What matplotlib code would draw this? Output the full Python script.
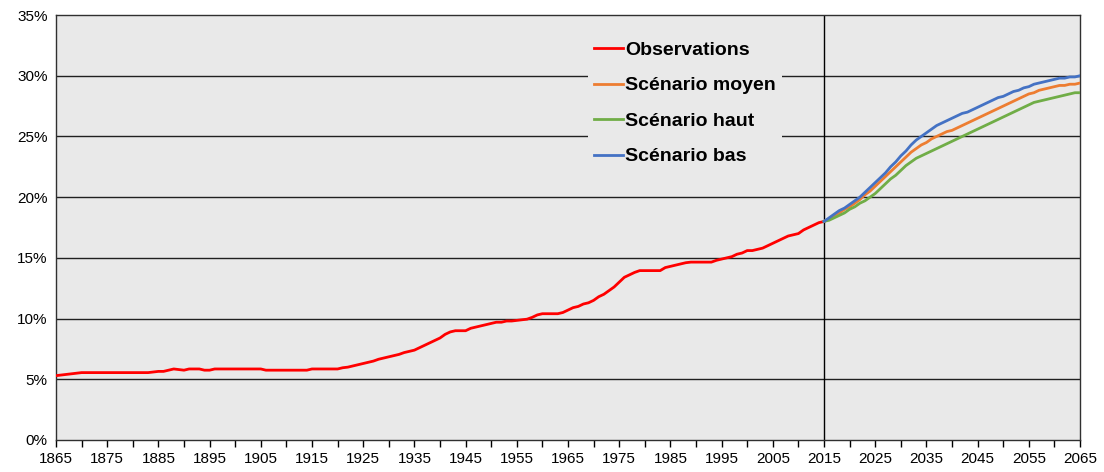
import matplotlib.pyplot as plt
from matplotlib.ticker import FuncFormatter

plt.rcParams['font.family'] = ['Liberation Sans', 'DejaVu Sans']

# observations, 1865-2015 (one value per year, in %)
obs_years = list(range(1865, 2016))
obs = [5.3, 5.35, 5.4, 5.45, 5.5,                                   # 1865-1869
       5.55, 5.55, 5.55, 5.55, 5.55, 5.55, 5.55, 5.55, 5.55, 5.55,  # 1870-1879
       5.55, 5.55, 5.55, 5.55, 5.6, 5.65, 5.65, 5.75, 5.85, 5.8,    # 1880-1889
       5.75, 5.85, 5.85, 5.85, 5.75, 5.75, 5.85, 5.85, 5.85, 5.85,  # 1890-1899
       5.85, 5.85, 5.85, 5.85, 5.85, 5.85, 5.75, 5.75, 5.75, 5.75,  # 1900-1909
       5.75, 5.75, 5.75, 5.75, 5.75, 5.85, 5.85, 5.85, 5.85, 5.85,  # 1910-1919
       5.85, 5.95, 6.0, 6.1, 6.2, 6.3, 6.4, 6.5, 6.65, 6.75,        # 1920-1929
       6.85, 6.95, 7.05, 7.2, 7.3, 7.4, 7.6, 7.8, 8.0, 8.2,         # 1930-1939
       8.4, 8.7, 8.9, 9.0, 9.0, 9.0, 9.2, 9.3, 9.4, 9.5,            # 1940-1949
       9.6, 9.7, 9.7, 9.8, 9.8, 9.85, 9.9, 9.95, 10.1, 10.3,        # 1950-1959
       10.4, 10.4, 10.4, 10.4, 10.5, 10.7, 10.9, 11.0, 11.2, 11.3,  # 1960-1969
       11.5, 11.8, 12.0, 12.3, 12.6, 13.0, 13.4, 13.6, 13.8, 13.95, # 1970-1979
       13.95, 13.95, 13.95, 13.95, 14.2, 14.3, 14.4, 14.5, 14.6, 14.65,  # 1980-1989
       14.65, 14.65, 14.65, 14.65, 14.8, 14.9, 15.0, 15.1, 15.3, 15.4,   # 1990-1999
       15.6, 15.6, 15.7, 15.8, 16.0, 16.2, 16.4, 16.6, 16.8, 16.9,       # 2000-2009
       17.0, 17.3, 17.5, 17.7, 17.9, 18.0]                               # 2010-2015

# projections, 2015-2065
proj_years = list(range(2015, 2066))
moyen = [18.0, 18.2, 18.5, 18.7, 19.0, 19.2, 19.5, 19.8, 20.2, 20.5,
         20.9, 21.3, 21.7, 22.1, 22.5, 22.9, 23.3, 23.7, 24.0, 24.3,
         24.5, 24.8, 25.0, 25.2, 25.4, 25.5, 25.7, 25.9, 26.1, 26.3,
         26.5, 26.7, 26.9, 27.1, 27.3, 27.5, 27.7, 27.9, 28.1, 28.3,
         28.5, 28.6, 28.8, 28.9, 29.0, 29.1, 29.2, 29.2, 29.3, 29.3, 29.4]
haut = [18.0, 18.1, 18.3, 18.5, 18.7, 19.0, 19.2, 19.5, 19.7, 20.0,
        20.3, 20.7, 21.1, 21.5, 21.8, 22.2, 22.6, 22.9, 23.2, 23.4,
        23.6, 23.8, 24.0, 24.2, 24.4, 24.6, 24.8, 25.0, 25.2, 25.4,
        25.6, 25.8, 26.0, 26.2, 26.4, 26.6, 26.8, 27.0, 27.2, 27.4,
        27.6, 27.8, 27.9, 28.0, 28.1, 28.2, 28.3, 28.4, 28.5, 28.6, 28.6]
bas = [18.0, 18.3, 18.6, 18.9, 19.1, 19.4, 19.7, 20.0, 20.4, 20.8,
       21.2, 21.6, 22.0, 22.5, 22.9, 23.4, 23.8, 24.3, 24.7, 25.0,
       25.3, 25.6, 25.9, 26.1, 26.3, 26.5, 26.7, 26.9, 27.0, 27.2,
       27.4, 27.6, 27.8, 28.0, 28.2, 28.3, 28.5, 28.7, 28.8, 29.0,
       29.1, 29.3, 29.4, 29.5, 29.6, 29.7, 29.8, 29.8, 29.9, 29.9, 30.0]

fig = plt.figure(figsize=(11.04, 4.72), dpi=100)
ax = fig.add_axes([0.0507, 0.0678, 0.9276, 0.9004])
ax.set_facecolor('#e9e9e9')

for y in range(5, 35, 5):
    ax.axhline(y, color='#202020', lw=1.0, zorder=1)
ax.axvline(2015, color='black', lw=1.0, zorder=1)

l_obs, = ax.plot(obs_years, obs, color='#ff0000', lw=2.0, zorder=3)
l_moy, = ax.plot(proj_years, moyen, color='#ed7d31', lw=2.0, zorder=3)
l_haut, = ax.plot(proj_years, haut, color='#70ad47', lw=2.0, zorder=3)
l_bas, = ax.plot(proj_years, bas, color='#4472c4', lw=2.0, zorder=4)

ax.set_xlim(1865, 2065)
ax.set_ylim(0, 35)
ax.set_xticks(range(1865, 2066, 10))
ax.set_xticks(range(1870, 2066, 10), minor=True)
ax.set_yticks(range(0, 36, 5))
ax.yaxis.set_major_formatter(FuncFormatter(lambda v, p: '%d%%' % v))
ax.tick_params(axis='x', which='both', direction='out', length=5, width=1,
               labelsize=11, pad=4)
ax.tick_params(axis='y', length=0, labelsize=11, pad=6)
for s in ax.spines.values():
    s.set_color('#303030')
    s.set_linewidth(1.0)

leg = ax.legend([l_obs, l_moy, l_haut, l_bas],
                ['Observations', 'Scénario moyen', 'Scénario haut', 'Scénario bas'],
                loc='upper left', bbox_to_anchor=(0.5195, 0.952),
                borderaxespad=0,
                prop={'weight': 'bold', 'size': 14},
                handlelength=1.5, handletextpad=0.12, labelspacing=0.92,
                borderpad=0.3, frameon=True, fancybox=False)
leg.get_frame().set_facecolor('#e9e9e9')
leg.get_frame().set_edgecolor('none')
leg.get_frame().set_alpha(1)
leg.set_zorder(5)

fig.savefig('out.png', dpi=100)
